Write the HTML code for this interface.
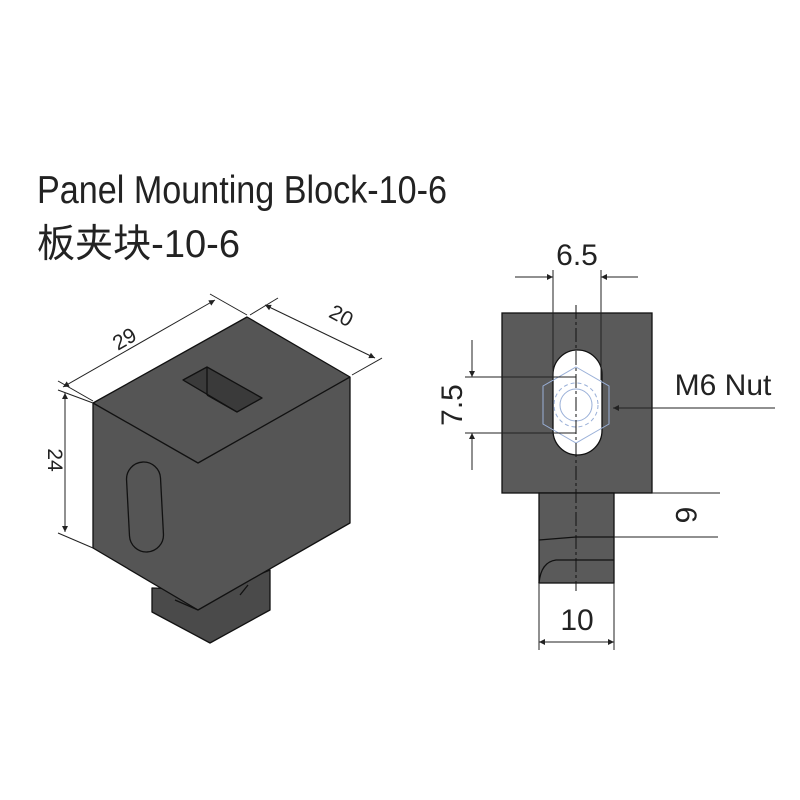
<!DOCTYPE html>
<html><head><meta charset="utf-8"><style>html,body{margin:0;padding:0;background:#fff}svg{display:block}</style></head>
<body>
<svg width="800" height="800" viewBox="0 0 800 800" xmlns="http://www.w3.org/2000/svg" font-family="'Liberation Sans','Noto Sans CJK SC',sans-serif">
<defs>
<marker id="ar" viewBox="0 0 10 10" refX="10" refY="5" markerWidth="9" markerHeight="6" orient="auto-start-reverse" markerUnits="userSpaceOnUse"><path d="M0,0 L10,5 L0,10 z" fill="#222"/></marker>
</defs>
<rect width="800" height="800" fill="#fff"/>
<text x="37" y="203" font-size="39" textLength="410" lengthAdjust="spacingAndGlyphs" fill="#222">Panel Mounting Block-10-6</text>
<text x="37" y="257" font-size="39" textLength="203" lengthAdjust="spacingAndGlyphs" fill="#222">板夹块-10-6</text>

<!-- ISO VIEW -->
<g stroke="#111" stroke-width="1.3" stroke-linejoin="round">
<polygon points="152,588 152,612 210,643 270,610 270,570 220,590" fill="#4a4a4a"/>
<polygon points="93,403 247,317 350,377 350,523 198,610 93,548" fill="#555"/>
<polyline points="93,403 198,463 350,377" fill="none"/>
<polygon points="183,380 207,367 262,398 237,412" fill="#3a3a3a"/>
<line x1="207" y1="367" x2="207" y2="395"/>
<line x1="207" y1="395" x2="237" y2="412"/>
<rect x="128" y="462" width="34" height="90" rx="17" fill="none" transform="rotate(-3 145 507)"/>
<line x1="175" y1="600" x2="198" y2="610" />
<line x1="240" y1="595" x2="248" y2="585"/>
</g>
<g stroke="#222" stroke-width="1" fill="none">
<line x1="63" y1="387" x2="215" y2="300" marker-start="url(#ar)" marker-end="url(#ar)"/>
<line x1="58" y1="381" x2="93" y2="401"/>
<line x1="210" y1="294" x2="247" y2="315"/>
<line x1="265" y1="305" x2="375" y2="358" marker-start="url(#ar)" marker-end="url(#ar)"/>
<line x1="250" y1="315" x2="278" y2="298"/>
<line x1="352" y1="375" x2="382" y2="358"/>
<line x1="65" y1="393" x2="65" y2="532" marker-start="url(#ar)" marker-end="url(#ar)"/>
<line x1="58" y1="390" x2="93" y2="403"/>
<line x1="58" y1="533" x2="93" y2="548"/>
</g>
<text x="128" y="345" font-size="21" fill="#222" transform="rotate(-30 128 345)" text-anchor="middle">29</text>
<text x="338" y="322" font-size="21" fill="#222" transform="rotate(28 338 322)" text-anchor="middle">20</text>
<text x="48" y="460" font-size="21" fill="#222" transform="rotate(90 48 460)" text-anchor="middle">24</text>

<!-- FRONT VIEW -->
<g stroke="#111" stroke-width="1.3">
<rect x="502" y="313" width="150" height="180" fill="#5a5a5a"/>
<rect x="539" y="493" width="75" height="90" fill="#5a5a5a"/>
<rect x="553" y="350" width="49" height="105" rx="24.5" fill="#fff"/>
<path d="M539,540 L576,537 L614,537" fill="none"/>
<path d="M539,583 Q541,562 556,560 L614,560" fill="none"/>
</g>
<g stroke="#9ab0d8" stroke-width="1" fill="none">
<polygon points="576,367 609,386 609,424 576,443 543,424 543,386"/>
<circle cx="576" cy="405" r="22" stroke-dasharray="4 3"/>
<circle cx="576" cy="405" r="16"/>
</g>
<line x1="576" y1="305" x2="576" y2="591" stroke="#111" stroke-width="1" stroke-dasharray="14 3 3 3"/>
<g stroke="#222" stroke-width="1" fill="none">
<line x1="553" y1="270" x2="553" y2="380"/>
<line x1="601" y1="270" x2="601" y2="380"/>
<line x1="515" y1="277" x2="553" y2="277" marker-end="url(#ar)"/>
<line x1="638" y1="277" x2="601" y2="277" marker-end="url(#ar)"/>
<line x1="465" y1="377" x2="576" y2="377"/>
<line x1="465" y1="433" x2="576" y2="433"/>
<line x1="472" y1="340" x2="472" y2="377" marker-end="url(#ar)"/>
<line x1="472" y1="470" x2="472" y2="433" marker-end="url(#ar)"/>
<line x1="775" y1="408" x2="613" y2="408" marker-end="url(#ar)"/>
<line x1="652" y1="493" x2="720" y2="493"/>
<line x1="614" y1="537" x2="718" y2="537"/>
<line x1="539" y1="583" x2="539" y2="650"/>
<line x1="614" y1="583" x2="614" y2="650"/>
<line x1="539" y1="642" x2="614" y2="642" marker-start="url(#ar)" marker-end="url(#ar)"/>
</g>
<text x="577" y="265" font-size="30" fill="#222" text-anchor="middle">6.5</text>
<text x="462" y="405" font-size="30" fill="#222" text-anchor="middle" transform="rotate(-90 462 405)">7.5</text>
<text x="723" y="395" font-size="30" fill="#222" text-anchor="middle">M6 Nut</text>
<text x="676" y="515" font-size="30" fill="#222" text-anchor="middle" transform="rotate(90 676 515)">6</text>
<text x="577" y="630" font-size="30" fill="#222" text-anchor="middle">10</text>
</svg>
</body></html>
